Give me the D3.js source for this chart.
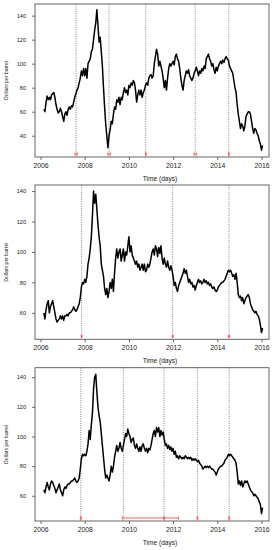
<!DOCTYPE html>
<html>
<head>
<meta charset="utf-8">
<script src="https://cdn.jsdelivr.net/npm/d3@7"></script>
<style>
  body { margin: 0; background: #fff; }
  svg { display: block; font-family: "Liberation Sans", Arial, sans-serif; }
</style>
</head>
<body>
<svg id="chart" width="275" height="550"></svg>
<script>
// price series are sampled on a regular grid (years)
var startYear = 2006.15, stepYear = 0.05;

var xTicks = [2006, 2008, 2010, 2012, 2014, 2016];
var yTicksA = [40, 60, 80, 100, 120, 140];
var yTicksB = [60, 80, 100, 120, 140];
var yTicksC = [60, 80, 100, 120, 140];

var priceA = [
  62,60,68,73,70,72,70,74,75,76,72,66,62,59,60,63,60,
  56,52,58,60,57,62,64,62,65,64,68,72,75,78,80,84,88,94,90,96,
  90,96,88,100,102,104,110,112,120,128,134,145,132,118,122,110,98,80,64,50,
  40,30,40,45,52,50,58,64,62,70,68,72,66,72,70,76,80,76,78,74,
  82,80,84,82,86,84,78,68,74,78,74,78,72,76,78,82,84,82,88,90,
  91,88,90,100,106,112,108,98,102,98,94,88,80,86,78,88,96,100,98,100,
  102,99,106,108,104,102,96,88,82,78,86,90,94,92,95,90,88,86,88,92,
  94,97,94,90,94,92,96,94,98,96,104,106,108,104,102,98,100,95,92,97,
  94,98,100,102,100,103,101,104,106,104,103,98,96,94,92,86,80,76,66,58,
  52,46,50,48,44,48,56,58,60,60,58,52,46,42,46,45,42,40,36,33,
  28,32
];

var priceB = [
  60,56,62,66,68,60,64,66,68,64,60,56,54,55,56,58,56,
  58,55,58,58,59,58,60,60,61,62,64,62,61,62,64,66,70,77,80,79,
  82,80,84,92,96,102,110,124,140,132,138,128,118,110,104,92,88,84,76,72,
  76,70,74,80,76,82,74,86,96,102,96,100,102,94,98,102,94,100,98,104,
  110,100,104,98,96,94,92,94,90,92,88,90,92,88,92,87,88,92,90,92,
  96,100,102,98,104,102,97,103,99,104,96,92,96,92,90,94,90,88,91,88,
  84,78,80,76,74,78,80,82,84,86,89,86,88,84,80,82,79,80,77,78,
  75,78,80,82,80,81,79,80,82,80,81,79,80,78,79,77,76,77,75,74,
  75,77,78,79,80,80,81,82,84,86,88,87,88,86,84,85,82,86,80,72,
  70,71,68,70,66,68,70,71,72,70,66,64,62,61,60,61,59,58,56,52,
  47,50
];

var priceC = [
  64,62,66,69,66,64,68,70,69,67,65,62,64,66,68,64,62,
  60,64,66,65,67,68,68,69,70,70,71,72,70,69,70,72,78,85,88,87,
  88,87,90,95,104,98,108,116,132,140,142,130,120,114,110,102,94,86,78,72,
  74,72,70,74,80,76,80,86,90,94,90,92,96,92,90,94,98,102,100,105,
  102,100,96,98,99,94,92,95,92,90,93,90,94,95,92,90,92,89,92,91,
  94,98,102,104,100,106,103,106,100,104,101,103,98,94,95,92,94,91,93,90,
  92,88,90,86,87,85,87,86,85,86,85,87,86,85,86,85,86,84,85,84,
  85,84,83,84,82,81,80,78,79,80,79,80,79,80,79,78,78,77,76,74,
  76,78,79,80,80,81,82,84,85,86,88,87,88,87,86,85,84,82,76,68,
  70,67,70,66,68,70,69,70,68,66,64,63,62,60,61,60,59,58,56,54,
  48,52
];

// estimated break dates and their confidence intervals
var breaksA = [2007.61, 2009.10, 2010.76, 2013.00, 2014.52];
var ciA = [[2007.56, 2007.66], [2009.05, 2009.16], [2010.75, 2010.78], [2012.95, 2013.07], [2014.51, 2014.54]];
var breaksB = [2007.86, 2011.98, 2014.53];
var ciB = [[2007.84, 2007.88], [2011.96, 2012.00], [2014.50, 2014.56]];
var breaksC = [2007.82, 2009.75, 2011.59, 2013.10, 2014.54];
var ciC = [[2007.80, 2007.85], [2009.70, 2012.24], [2011.57, 2011.62], [2013.08, 2013.12], [2014.52, 2014.56]];

var panels = [
  { price: priceA, breaks: breaksA, ci: ciA, yTicks: yTicksA, top: 4, bottom: 157, yDomain: [22.3, 149.7] },
  { price: priceB, breaks: breaksB, ci: ciB, yTicks: yTicksB, top: 185, bottom: 339.3, yDomain: [42.6, 144] },
  { price: priceC, breaks: breaksC, ci: ciC, yTicks: yTicksC, top: 367.7, bottom: 521, yDomain: [43, 146.4] }
];

var left = 35, right = 269;
var svg = d3.select("#chart");

var x = d3.scaleLinear().domain([2005.75, 2016.34]).range([left, right]);

panels.forEach(function(p) {
  var y = d3.scaleLinear().domain(p.yDomain).range([p.bottom, p.top]);
  var g = svg.append("g");

  // x axis
  var xa = g.append("g")
    .attr("transform", "translate(0," + p.bottom + ")")
    .call(d3.axisBottom(x).tickValues(xTicks).tickSize(3).tickPadding(3).tickFormat(d3.format("d")));
  xa.select(".domain").remove();
  xa.selectAll("line").attr("stroke", "#444").attr("stroke-width", 0.8);
  xa.selectAll("text").attr("font-size", 6.8).attr("fill", "#222")
    .attr("font-family", "Liberation Sans, Arial, sans-serif");

  // y axis
  var ya = g.append("g")
    .attr("transform", "translate(" + left + ",0)")
    .call(d3.axisLeft(y).tickValues(p.yTicks).tickSize(3).tickPadding(6));
  ya.select(".domain").remove();
  ya.selectAll("line").attr("stroke", "#444").attr("stroke-width", 0.8);
  ya.selectAll("text").attr("font-size", 5.6).attr("fill", "#222")
    .attr("font-family", "Liberation Sans, Arial, sans-serif");

  // axis titles
  g.append("text")
    .attr("x", (left + right) / 2 + 8)
    .attr("y", p.bottom + 24)
    .attr("text-anchor", "middle")
    .attr("font-size", 6.6)
    .attr("fill", "#222")
    .text("Time (days)");

  g.append("text")
    .attr("transform", "translate(8," + (p.top + p.bottom) / 2 + ") rotate(-90)")
    .attr("text-anchor", "middle")
    .attr("font-size", 5.1)
    .attr("fill", "#222")
    .text("Dollars per barrel");

  // break lines
  g.selectAll(".brk").data(p.breaks).enter().append("line")
    .attr("x1", function(d) { return x(d); })
    .attr("x2", function(d) { return x(d); })
    .attr("y1", p.top)
    .attr("y2", p.bottom)
    .attr("stroke", "#555")
    .attr("stroke-width", 0.7)
    .attr("stroke-dasharray", "1,1.3");

  // price line
  var line = d3.line()
    .x(function(d, i) { return x(startYear + i * stepYear); })
    .y(function(d) { return y(d); });

  g.append("path")
    .datum(p.price)
    .attr("d", line)
    .attr("fill", "none")
    .attr("stroke", "#000")
    .attr("stroke-width", 1.5)
    .attr("stroke-linejoin", "round");

  // confidence intervals for the breaks
  var cy = p.bottom - 3;
  p.ci.forEach(function(c) {
    g.append("line")
      .attr("x1", x(c[0])).attr("x2", x(c[1]))
      .attr("y1", cy).attr("y2", cy)
      .attr("stroke", "#ff4040").attr("stroke-width", 0.8);
    [c[0], c[1]].forEach(function(e) {
      g.append("line")
        .attr("x1", x(e)).attr("x2", x(e))
        .attr("y1", cy - 1.5).attr("y2", cy + 1.5)
        .attr("stroke", "#ff4040").attr("stroke-width", 0.8);
    });
  });

  // box
  g.append("rect")
    .attr("x", left).attr("y", p.top)
    .attr("width", right - left).attr("height", p.bottom - p.top)
    .attr("fill", "none")
    .attr("stroke", "#555")
    .attr("stroke-width", 0.9);
});
</script>
</body>
</html>
